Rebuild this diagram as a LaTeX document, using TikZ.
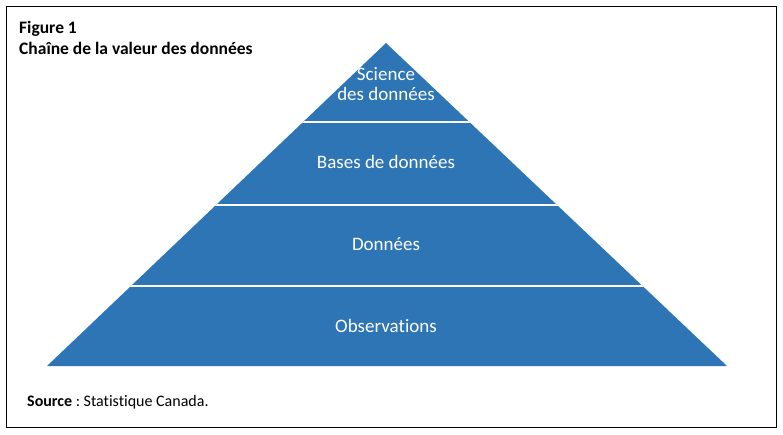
\documentclass[tikz,border=0pt]{standalone}
\usepackage{fontspec}
\setmainfont[Ligatures=NoCommon]{Carlito}
\definecolor{pyblue}{RGB}{46,117,182}
\begin{document}
\begin{tikzpicture}[x=1pt,y=-1pt,
  lbl/.style={text=white,font=\fontsize{19}{20}\selectfont,align=center,inner sep=0pt},
  divider/.style={white,line width=2.4pt},
  ttl/.style={anchor=base west,inner sep=0pt,font=\fontsize{17.5}{20}\selectfont\bfseries}]
\useasboundingbox (0,0) rectangle (783,435);
\draw[line width=1pt] (6,7) rectangle (776,427);
\coordinate (apex) at (386,43);
\coordinate (bl) at (47,366);
\coordinate (br) at (727,366);
\fill[pyblue] (apex) -- (br) -- (bl) -- cycle;
\begin{scope}
\clip (apex) -- (br) -- (bl) -- cycle;
\draw[divider] (0,122) -- (783,122);
\draw[divider] (0,205) -- (783,205);
\draw[divider] (0,286) -- (783,286);
\end{scope}
\node[ttl] (fig) at (19,34) {Figure 1};
\node[ttl] (title) at (19,55) {Chaîne de la valeur des données};
\node[lbl] (sci) at (386,84) {Science\\des données};
\node[lbl] (bases) at (386,162) {Bases de données};
\node[lbl] (don) at (386,244) {Données};
\node[lbl] (obs) at (386,326) {Observations};
\node[anchor=base west,inner sep=0pt,font=\fontsize{16}{19}\selectfont] (src) at (27,406) {\frenchspacing\textbf{Source} : Statistique Canada.};
\end{tikzpicture}
\end{document}
